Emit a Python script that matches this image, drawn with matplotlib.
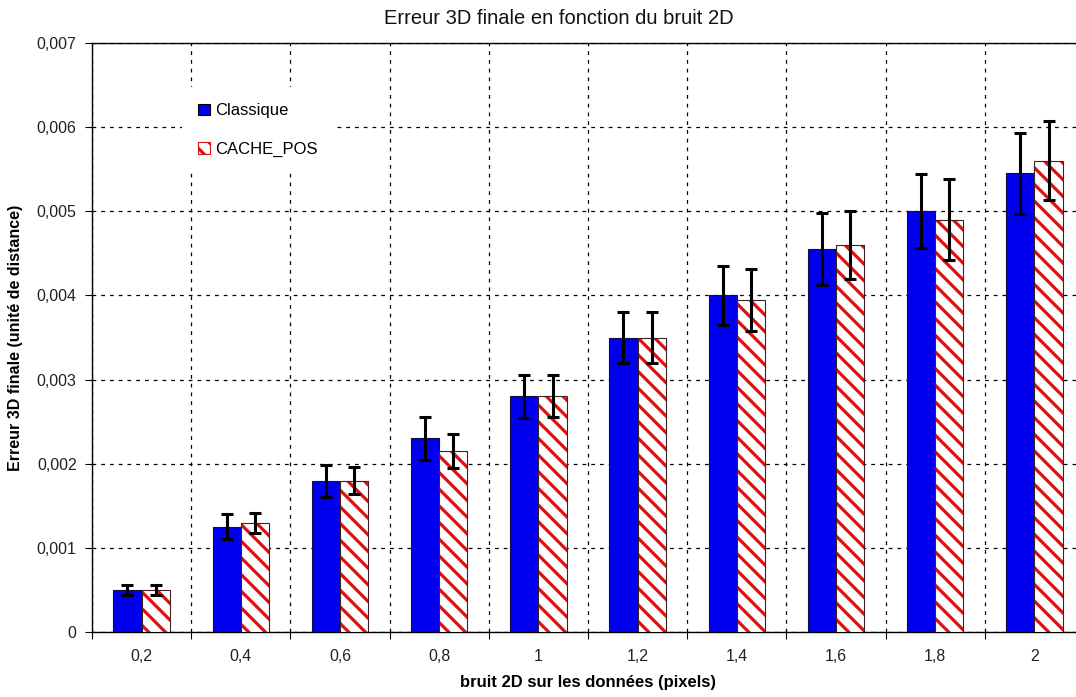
import numpy as np
import matplotlib.pyplot as plt
from matplotlib.patches import Patch

# donnees
bruit = ["0,2", "0,4", "0,6", "0,8", "1", "1,2", "1,4", "1,6", "1,8", "2"]
classique = [0.0005, 0.00125, 0.0018, 0.0023, 0.0028, 0.0035, 0.0040, 0.00455, 0.0050, 0.00545]
classique_err = [0.00006, 0.00015, 0.00019, 0.00025, 0.00026, 0.0003, 0.00035, 0.00043, 0.00044, 0.00048]
cache_pos = [0.0005, 0.0013, 0.0018, 0.00215, 0.0028, 0.0035, 0.00395, 0.0046, 0.0049, 0.0056]
cache_err = [0.00006, 0.00012, 0.00016, 0.0002, 0.00025, 0.0003, 0.00037, 0.0004, 0.00048, 0.00047]
y_ticks = [0, 0.001, 0.002, 0.003, 0.004, 0.005, 0.006, 0.007]

plt.rcParams['font.family'] = ['Liberation Sans', 'DejaVu Sans']
plt.rcParams['hatch.linewidth'] = 2.3

fig = plt.figure(figsize=(10.76, 6.97), dpi=100)
ax = fig.add_axes([92 / 1076, 1 - 632 / 697, (1084 - 92) / 1076, (632 - 43) / 697])

x = np.arange(len(bruit))
w = 0.285

ax.bar(x - w / 2, classique, w, color='#0000ee', edgecolor='#101040', linewidth=0.8, zorder=3)
ax.errorbar(x - w / 2, classique, yerr=classique_err, fmt='none', ecolor='black',
            elinewidth=2.2, capsize=4, capthick=2.2, zorder=5)

# hachures rouges puis contour sombre
ax.bar(x + w / 2, cache_pos, w, color='white', edgecolor='#dd1111', hatch='\\\\',
       linewidth=0, zorder=3)
ax.bar(x + w / 2, cache_pos, w, fill=False, edgecolor='#402020', linewidth=0.8, zorder=4)
ax.errorbar(x + w / 2, cache_pos, yerr=cache_err, fmt='none', ecolor='black',
            elinewidth=2.2, capsize=4, capthick=2.2, zorder=5)

ax.set_xlim(-0.5, len(bruit) - 0.5)
ax.set_ylim(0, 0.007)
ax.set_yticks(y_ticks)
ax.set_yticklabels([("%.3f" % v).replace('.', ',') if v > 0 else "0" for v in y_ticks])

ax.set_xticks(np.arange(len(bruit) + 1) - 0.5)
ax.set_xticklabels([])
ax.set_xticks(x, minor=True)
ax.set_xticklabels(bruit, minor=True)
ax.tick_params(axis='x', which='minor', length=0, pad=12, labelsize=11.5)
ax.tick_params(axis='x', which='major', length=5, direction='out')
ax.tick_params(axis='y', length=5, direction='out', labelsize=11.5, pad=6)
ax.tick_params(colors='black', which='both', labelcolor='#222222')

ax.grid(True, which='major', color='black', linestyle=(0, (3, 4)), linewidth=0.9, zorder=0)
ax.set_axisbelow(True)
for s in ax.spines.values():
    s.set_color('black')
    s.set_linewidth(1.0)

fig.text(559 / 1076, 1 - 18 / 697, "Erreur 3D finale en fonction du bruit 2D",
         fontsize=14.5, ha='center', va='center', color='#111111')
ax.set_xlabel("bruit 2D sur les données (pixels)", fontsize=12, fontweight='bold', labelpad=8)
ax.set_ylabel("Erreur 3D finale (unité de distance)", fontsize=11.5, fontweight='bold',
              labelpad=10)

handles = [Patch(facecolor='#0000ee', edgecolor='black', linewidth=0.8),
           Patch(facecolor='white', edgecolor='#dd1111', hatch='\\\\', linewidth=0.8)]
leg = ax.legend(handles, ["Classique", "CACHE_POS"], loc='upper left',
                bbox_to_anchor=(0.082, 0.94), frameon=True, fancybox=False,
                edgecolor='none', facecolor='white', framealpha=1,
                handlelength=0.7, handleheight=0.7, handletextpad=0.3,
                labelspacing=1.4, fontsize=12, borderpad=1.0)
leg.set_zorder(6)

fig.savefig("out.png", dpi=100)
